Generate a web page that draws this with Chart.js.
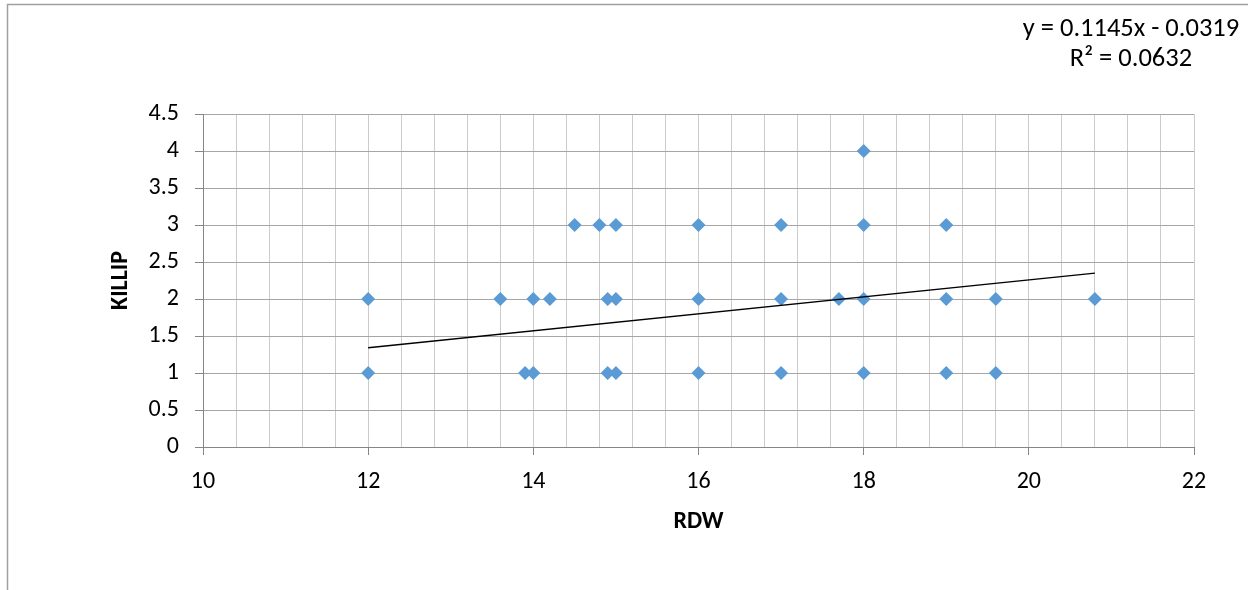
<!DOCTYPE html>
<html>
<head>
<meta charset="utf-8">
<title>KILLIP vs RDW</title>
<script src="https://cdn.jsdelivr.net/npm/chart.js@4/dist/chart.umd.min.js"></script>
<style>
  html, body { margin: 0; padding: 0; background: #ffffff; }
  #wrap { position: relative; width: 1248px; height: 590px; }
</style>
</head>
<body>
<div id="wrap"><canvas id="chart" width="1248" height="590"></canvas></div>
<script>
// RDW values for each KILLIP class
const rdwKillip1 = [12, 13.9, 14, 14.9, 15, 16, 17, 18, 19, 19.6];
const rdwKillip2 = [12, 13.6, 14, 14.2, 14.9, 15, 16, 17, 17.7, 18, 19, 19.6, 20.8];
const rdwKillip3 = [14.5, 14.8, 15, 16, 17, 18, 19];
const rdwKillip4 = [18];

// Linear trend line fitted to the points
const trendSlope = 0.1145;
const trendIntercept = -0.0319;
const trendRange = [12, 20.8];
const rSquared = 0.0632;

// Axis ranges and titles
const xAxisRange = [10, 22];
const yAxisRange = [0, 4.5];
const xTitle = 'RDW';
const yTitle = 'KILLIP';

const FONT = 'Calibri, Carlito, Lato, "Open Sans", sans-serif';

const points = [];
[[1, rdwKillip1], [2, rdwKillip2], [3, rdwKillip3], [4, rdwKillip4]].forEach(([k, xs]) => {
  xs.forEach(x => points.push({ x: x, y: k }));
});

const trendPoints = trendRange.map(x => ({ x: x, y: trendSlope * x + trendIntercept }));

const fmt = v => v.toFixed(4);
const equationLines = [
  'y = ' + fmt(trendSlope) + 'x ' + (trendIntercept < 0 ? '- ' : '+ ') + fmt(Math.abs(trendIntercept)),
  'R\u00B2 = ' + fmt(rSquared)
];

const isEven = v => Math.abs(v / 2 - Math.round(v / 2)) < 1e-6;

// Outer frame lines and the trend-line equation box
const decorPlugin = {
  id: 'decor',
  beforeDraw(chart) {
    const ctx = chart.ctx;
    ctx.save();
    ctx.fillStyle = '#ffffff';
    ctx.fillRect(0, 0, chart.width, chart.height);
    ctx.strokeStyle = '#a0a0a0';
    ctx.lineWidth = 1.5;
    ctx.beginPath();
    ctx.moveTo(7.5, chart.height);
    ctx.lineTo(7.5, 4.5);
    ctx.lineTo(chart.width, 4.5);
    ctx.stroke();
    ctx.restore();
  },
  afterDraw(chart) {
    const ctx = chart.ctx;
    ctx.save();
    ctx.fillStyle = '#000000';
    ctx.font = '26.5px ' + FONT;
    ctx.textAlign = 'center';
    ctx.textBaseline = 'middle';
    ctx.fillText(equationLines[0], 1131, 29);
    ctx.fillText(equationLines[1], 1131, 59);
    ctx.restore();
  }
};

new Chart(document.getElementById('chart'), {
  type: 'scatter',
  data: {
    datasets: [
      {
        label: 'KILLIP',
        data: points,
        pointStyle: 'rectRot',
        pointRadius: 7,
        pointHoverRadius: 7,
        pointBackgroundColor: '#5b9bd5',
        pointBorderColor: '#5b9bd5',
        pointBorderWidth: 0,
        order: 1
      },
      {
        label: 'Linear (KILLIP)',
        type: 'line',
        data: trendPoints,
        borderColor: '#000000',
        borderWidth: 1.5,
        pointRadius: 0,
        fill: false,
        order: 0
      }
    ]
  },
  options: {
    responsive: false,
    animation: false,
    layout: { padding: { top: 114, right: 54, bottom: 0, left: 0 } },
    plugins: {
      legend: { display: false },
      tooltip: { enabled: false }
    },
    scales: {
      x: {
        type: 'linear',
        min: xAxisRange[0],
        max: xAxisRange[1],
        afterFit(scale) { scale.height = 143; },
        border: { display: true, color: '#868686', width: 1 },
        grid: {
          color: '#cccccc',
          lineWidth: 1,
          drawTicks: true,
          tickLength: 8,
          tickColor: ctx => (ctx.tick && isEven(ctx.tick.value)) ? '#868686' : 'rgba(0,0,0,0)'
        },
        ticks: {
          stepSize: 0.4,
          autoSkip: false,
          maxRotation: 0,
          padding: 13,
          color: '#000000',
          font: { family: FONT, size: 24 },
          callback: v => isEven(v) ? String(Math.round(v)) : ''
        },
        title: {
          display: true,
          text: xTitle,
          color: '#000000',
          font: { family: FONT, size: 24, weight: 'bold' },
          padding: { top: 0, bottom: 54 }
        }
      },
      y: {
        type: 'linear',
        min: yAxisRange[0],
        max: yAxisRange[1],
        afterFit(scale) { scale.width = 203; },
        border: { display: true, color: '#868686', width: 1 },
        grid: {
          color: '#a6a6a6',
          lineWidth: 1,
          drawTicks: true,
          tickLength: 8,
          tickColor: '#868686'
        },
        ticks: {
          stepSize: 0.5,
          padding: 16,
          color: '#000000',
          font: { family: FONT, size: 24 },
          callback: v => String(Number(v.toFixed(1)))
        },
        title: {
          display: true,
          text: yTitle,
          color: '#000000',
          font: { family: FONT, size: 24, weight: 'bold' },
          padding: { top: 107, bottom: 0 }
        }
      }
    }
  },
  plugins: [decorPlugin]
});
</script>
</body>
</html>
